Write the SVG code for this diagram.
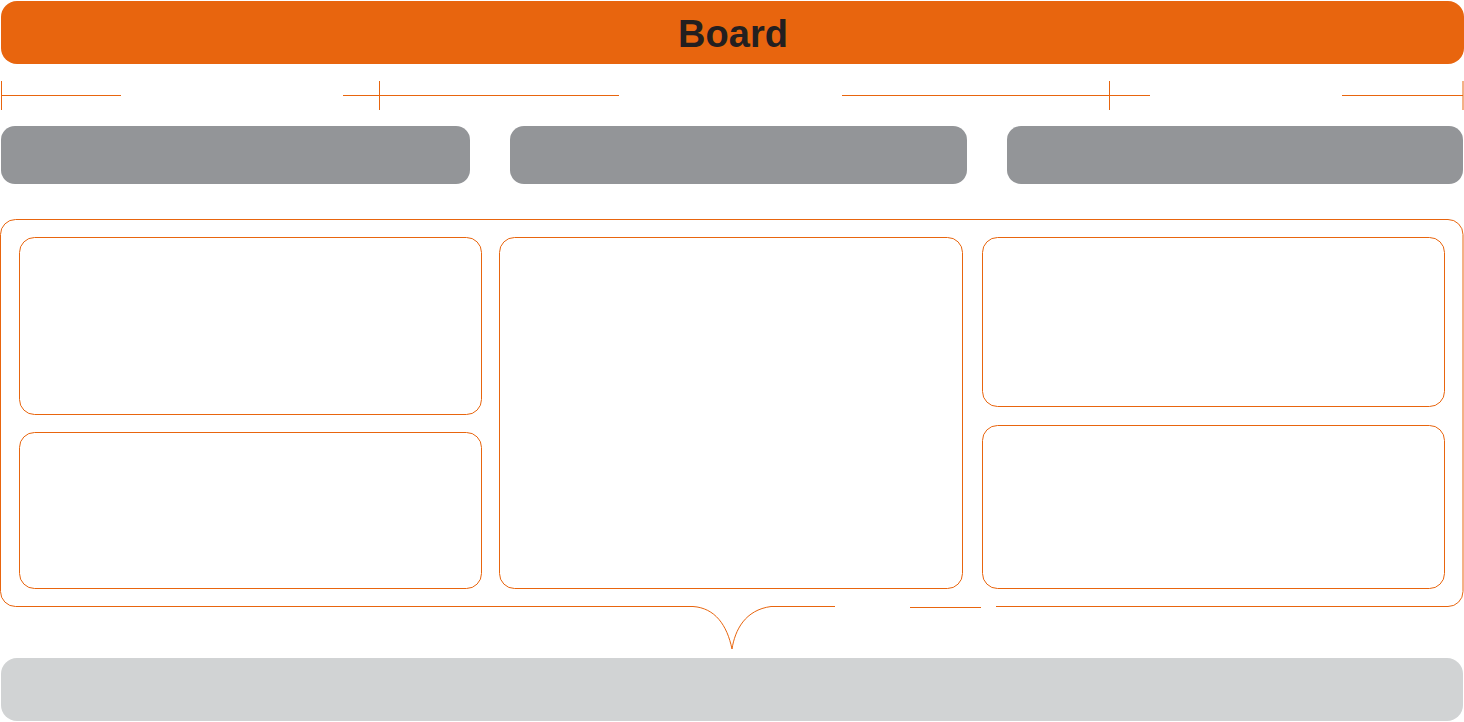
<svg xmlns="http://www.w3.org/2000/svg" width="1464" height="722" viewBox="0 0 1464 722">
  <style>
    .hdr { fill: #E8650E; }
    .col { fill: #939598; }
    .foot { fill: #D1D3D4; }
    .ln { fill: none; stroke: #E8650E; stroke-width: 1; }
    .title { font-family: "Liberation Sans", Arial, sans-serif; font-weight: 700; font-size: 38px; fill: #231F20; }
  </style>
  <rect width="1464" height="722" fill="#FFFFFF"/>
  <g id="board">
    <rect class="hdr" x="1" y="1" width="1463" height="63" rx="16" ry="16"/>
    <text class="title" x="733" y="47" text-anchor="middle">Board</text>
  </g>
  <g id="connectors">
    <line class="ln" x1="1" y1="95.5" x2="121" y2="95.5"/>
    <line class="ln" x1="343" y1="95.5" x2="619" y2="95.5"/>
    <line class="ln" x1="842" y1="95.5" x2="1150" y2="95.5"/>
    <line class="ln" x1="1342" y1="95.5" x2="1463" y2="95.5"/>
    <line class="ln" x1="1.5" y1="81" x2="1.5" y2="110"/>
    <line class="ln" x1="379.5" y1="81" x2="379.5" y2="110"/>
    <line class="ln" x1="1109.5" y1="81" x2="1109.5" y2="110"/>
    <line class="ln" x1="1463" y1="81" x2="1463" y2="110"/>
  </g>
  <g id="column-1">
    <rect class="col" x="1" y="126" width="469" height="58" rx="14" ry="14"/>
  </g>
  <g id="column-2">
    <rect class="col" x="510" y="126" width="457" height="58" rx="14" ry="14"/>
  </g>
  <g id="column-3">
    <rect class="col" x="1007" y="126" width="456" height="58" rx="14" ry="14"/>
  </g>
  <g id="frame">
    <path class="ln" d="M693,606.5 L15.5,606.5 A15,15 0 0 1 0.5,591.5 L0.5,234.5 A15,15 0 0 1 15.5,219.5 L1448,219.5 A15,15 0 0 1 1463,234.5 L1463,591.5 A15,15 0 0 1 1448,606.5 L996,606.5"/>
    <path class="ln" d="M693,606.5 C715,608 727,625 732,649 C735,630 745,610 771,606.5 L835,606.5"/>
    <line class="ln" x1="910" y1="607.5" x2="981" y2="607.5"/>
  </g>
  <g id="panel-left-top">
    <rect class="ln" x="19.5" y="237.5" width="462" height="177" rx="15" ry="15"/>
  </g>
  <g id="panel-left-bottom">
    <rect class="ln" x="19.5" y="432.5" width="462" height="156" rx="15" ry="15"/>
  </g>
  <g id="panel-middle">
    <rect class="ln" x="499.5" y="237.5" width="463" height="351" rx="15" ry="15"/>
  </g>
  <g id="panel-right-top">
    <rect class="ln" x="982.5" y="237.5" width="462" height="169" rx="15" ry="15"/>
  </g>
  <g id="panel-right-bottom">
    <rect class="ln" x="982.5" y="425.5" width="462" height="163" rx="15" ry="15"/>
  </g>
  <g id="footer">
    <rect class="foot" x="1" y="658" width="1462" height="63" rx="16" ry="16"/>
  </g>
</svg>
